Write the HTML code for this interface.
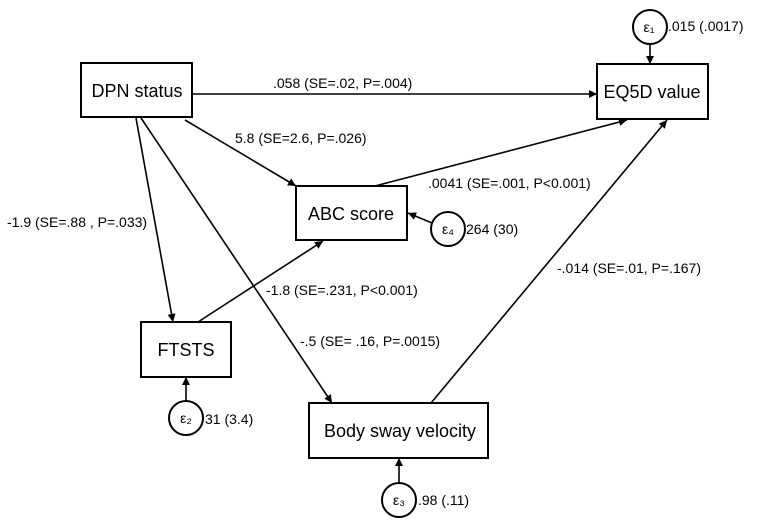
<!DOCTYPE html>
<html><head><style>body{margin:0;background:#fff}</style></head><body>
<svg width="761" height="520" xmlns="http://www.w3.org/2000/svg" font-family="Liberation Sans, Arial, sans-serif">
<defs><marker id="a" viewBox="0 0 10 10" refX="10" refY="5" markerWidth="11" markerHeight="8" markerUnits="userSpaceOnUse" orient="auto"><path d="M0,0L10,5L0,10z" fill="#000"/></marker></defs>
<g fill="#fff" stroke="#000" stroke-width="2">
<rect x="81" y="63" width="111" height="54"/>
<rect x="597" y="64" width="111" height="55"/>
<rect x="296" y="186" width="111" height="54"/>
<rect x="141" y="322" width="90" height="55"/>
<rect x="309" y="403" width="179" height="55"/>
<circle cx="650" cy="27" r="17"/>
<circle cx="448" cy="229" r="17"/>
<circle cx="186" cy="418" r="17"/>
<circle cx="399" cy="500" r="17"/>
</g>
<g stroke="#000" stroke-width="1.6" marker-end="url(#a)">
<line x1="192" y1="94" x2="597" y2="94"/>
<line x1="185" y1="120" x2="296" y2="186"/>
<line x1="136" y1="118" x2="173" y2="322"/>
<line x1="141" y1="118" x2="332" y2="403"/>
<line x1="198" y1="322" x2="323" y2="241"/>
<line x1="375" y1="186" x2="627" y2="120"/>
<line x1="431" y1="403" x2="667" y2="120"/>
<line x1="650" y1="44" x2="650" y2="64"/>
<line x1="432" y1="223" x2="408" y2="213"/>
<line x1="186" y1="401" x2="186" y2="377"/>
<line x1="399" y1="483" x2="399" y2="458"/>
</g>
<g font-size="18" text-anchor="middle">
<text x="137" y="97">DPN status</text>
<text x="652" y="98">EQ5D value</text>
<text x="351" y="220">ABC score</text>
<text x="186" y="356">FTSTS</text>
<text x="400" y="437">Body sway velocity</text>
</g>
<g font-size="14" text-anchor="middle">
<text x="649" y="32">ε₁</text><text x="448" y="234">ε₄</text><text x="186" y="423">ε₂</text><text x="399" y="505">ε₃</text>
</g>
<g font-size="14">
<text x="273" y="88">.058 (SE=.02, P=.004)</text>
<text x="235" y="143">5.8 (SE=2.6, P=.026)</text>
<text x="7" y="227">-1.9 (SE=.88 , P=.033)</text>
<text x="428" y="188">.0041 (SE=.001, P&lt;0.001)</text>
<text x="557" y="273">-.014 (SE=.01, P=.167)</text>
<text x="266" y="295">-1.8 (SE=.231, P&lt;0.001)</text>
<text x="300" y="346">-.5 (SE= .16, P=.0015)</text>
<text x="668" y="31">.015 (.0017)</text>
<text x="466" y="234">264 (30)</text>
<text x="205" y="424">31 (3.4)</text>
<text x="418" y="505">.98 (.11)</text>
</g>
</svg>
</body></html>
